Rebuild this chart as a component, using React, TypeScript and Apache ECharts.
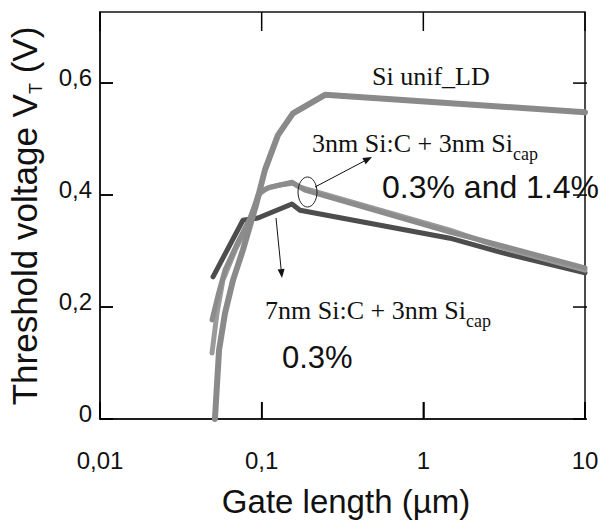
import React, { useEffect, useRef } from 'react';
import * as echarts from 'echarts';

// ---- data (gate length in µm, threshold voltage in V) ----
const unifX = [0.0514, 0.0545, 0.0593, 0.0665, 0.0766, 0.0922, 0.1048, 0.1261, 0.1561, 0.2463, 10];
const unifY = [0, 0.123, 0.189, 0.248, 0.302, 0.382, 0.445, 0.507, 0.546, 0.579, 0.548];

const sic3aX = [0.0493, 0.0529, 0.0576, 0.0694, 0.0823, 0.0949, 0.1078, 0.1298, 0.1561, 0.1725, 1.46, 2.98, 10];
const sic3aY = [0.118, 0.189, 0.248, 0.305, 0.346, 0.4, 0.4125, 0.418, 0.421, 0.414, 0.3375, 0.307, 0.266];

const sic3bX = [0.0493, 0.0537, 0.0593, 0.0713, 0.0847, 0.0976, 0.1125, 0.1539, 0.1853, 1.46, 10];
const sic3bY = [0.177, 0.221, 0.266, 0.316, 0.359, 0.405, 0.414, 0.423, 0.409, 0.334, 0.27];

const sic7X = [0.05, 0.0766, 0.0949, 0.1539, 0.1725, 1.46, 2.98, 10];
const sic7Y = [0.254, 0.355, 0.359, 0.384, 0.373, 0.323, 0.298, 0.261];

const xTicks = [0.01, 0.1, 1, 10];
const xTickLabels = ['0,01', '0,1', '1', '10'];
const yTicks = [0, 0.2, 0.4, 0.6];
const yTickLabels = ['0', '0,2', '0,4', '0,6'];

const X_MIN = 0.01;
const X_MAX = 10;
const Y_MIN = 0;
const Y_MAX = 0.727;

const SANS = "'Liberation Sans', Arial, sans-serif";
const SERIF = "'Liberation Serif', 'Times New Roman', serif";
const INK = '#111';
const TICK = '#000';

function pairs(xs: number[], ys: number[]) {
  return xs.map((x, i) => [x, ys[i]]);
}

function lookup(v: number, ticks: number[], labels: string[], log: boolean) {
  let best = -1;
  let bd = Infinity;
  ticks.forEach((t, i) => {
    const d = log ? Math.abs(Math.log10(v) - Math.log10(t)) : Math.abs(v - t);
    if (d < bd) { bd = d; best = i; }
  });
  return bd < 1e-3 ? labels[best] : '';
}

let measureCtx: CanvasRenderingContext2D | null = null;
function textWidth(text: string, size: number, family: string) {
  if (!measureCtx) measureCtx = document.createElement('canvas').getContext('2d');
  if (!measureCtx) return text.length * size * 0.5;
  measureCtx.font = `${size}px ${family}`;
  return measureCtx.measureText(text).width;
}

function arrow(x1: number, y1: number, x2: number, y2: number) {
  const dx = x2 - x1, dy = y2 - y1;
  const L = Math.hypot(dx, dy);
  const ux = dx / L, uy = dy / L;
  const hl = 9, hw = 3.5;
  const bx = x2 - ux * hl, by = y2 - uy * hl;
  return [
    { type: 'line', shape: { x1, y1, x2: bx, y2: by }, style: { stroke: INK, lineWidth: 1 }, z: 10 },
    {
      type: 'polygon',
      shape: { points: [[x2, y2], [bx - uy * hw, by + ux * hw], [bx + uy * hw, by - ux * hw]] },
      style: { fill: INK },
      z: 10,
    },
  ];
}

// serif label with subscript; yMid = vertical middle of the main text
function subLabel(x: number, yMid: number, main: string, sub: string) {
  const size = 26, subSize = 18;
  const w = textWidth(main, size, SERIF);
  const subMid = yMid + 0.3375 * size + 8 - 0.3375 * subSize;
  return [
    { type: 'text', x, y: yMid, z: 10, style: { text: main, fontSize: size, fontFamily: SERIF, fill: INK, align: 'left', verticalAlign: 'middle' } },
    { type: 'text', x: x + w, y: subMid, z: 10, style: { text: sub, fontSize: subSize, fontFamily: SERIF, fill: INK, align: 'left', verticalAlign: 'middle' } },
  ];
}

function yTitleTexts() {
  const size = 35, subSize = 18;
  const a = 'Threshold voltage V', b = 'T', c = ' (V)';
  const wa = textWidth(a, size, SANS), wb = textWidth(b, subSize, SANS), wc = textWidth(c, size, SANS);
  const W = wa + wb + wc;
  const cy = 216;
  const mainX = 37 - 0.3465 * size;
  const subX = 42 - 0.3465 * subSize;
  const st = (text: string, fs: number) => ({ text, fontSize: fs, fontFamily: SANS, fill: INK, align: 'left', verticalAlign: 'middle' });
  return [
    { type: 'text', x: mainX, y: cy + W / 2, rotation: Math.PI / 2, style: st(a, size) },
    { type: 'text', x: subX, y: cy + W / 2 - wa, rotation: Math.PI / 2, style: st(b, subSize) },
    { type: 'text', x: mainX, y: cy + W / 2 - wa - wb, rotation: Math.PI / 2, style: st(c, size) },
  ];
}

export default function App() {
  const ref = useRef<HTMLDivElement>(null);
  useEffect(() => {
    if (!ref.current) return;
    const chart = echarts.init(ref.current, undefined, { renderer: 'svg' });
    const lineSeries = (name: string, xs: number[], ys: number[], color: string, width: number) => ({
      name,
      type: 'line',
      data: pairs(xs, ys),
      showSymbol: false,
      symbol: 'none',
      lineStyle: { color, width, cap: 'round', join: 'round' },
      z: 3,
    });
    const tickStyle = { stroke: TICK, lineWidth: 1.5 };

    // tick marks on all four edges, drawn through the axes' own scales (api.coord)
    const xTickSeries = {
      name: 'x ticks',
      type: 'custom',
      silent: true,
      clip: false,
      z: 6,
      data: xTicks.map((v) => [v, Y_MIN]),
      renderItem: (_params: any, api: any) => {
        const v = api.value(0);
        const b = api.coord([v, Y_MIN]);
        const t = api.coord([v, Y_MAX]);
        return {
          type: 'group',
          children: [
            { type: 'line', shape: { x1: b[0], y1: b[1], x2: b[0], y2: b[1] - 17 }, style: tickStyle },
            { type: 'line', shape: { x1: t[0], y1: t[1], x2: t[0], y2: t[1] + 19 }, style: tickStyle },
          ],
        };
      },
    };
    const yTickSeries = {
      name: 'y ticks',
      type: 'custom',
      silent: true,
      clip: false,
      z: 6,
      data: yTicks.map((v) => [X_MIN, v]),
      renderItem: (_params: any, api: any) => {
        const v = api.value(1);
        const l = api.coord([X_MIN, v]);
        const r = api.coord([X_MAX, v]);
        return {
          type: 'group',
          children: [
            { type: 'line', shape: { x1: l[0], y1: l[1], x2: l[0] + 13, y2: l[1] }, style: tickStyle },
            { type: 'line', shape: { x1: r[0] - 12, y1: r[1], x2: r[0] + 2, y2: r[1] }, style: tickStyle },
          ],
        };
      },
    };

    chart.setOption({
      animation: false,
      grid: { left: 100, right: 19, top: 12, bottom: 107, show: true, borderColor: INK, borderWidth: 1.5, backgroundColor: 'transparent' },
      xAxis: {
        type: 'log',
        logBase: 10,
        min: X_MIN,
        max: X_MAX,
        axisLine: { show: true, onZero: false, lineStyle: { color: INK, width: 1.5 } },
        axisTick: { show: true, inside: true, length: 17, lineStyle: { color: TICK, width: 1.5 } },
        axisLabel: {
          margin: 29,
          fontSize: 24,
          fontFamily: SANS,
          color: INK,
          formatter: (v: number) => lookup(v, xTicks, xTickLabels, true),
        },
        splitLine: { show: false },
      },
      yAxis: {
        type: 'value',
        min: Y_MIN,
        max: Y_MAX,
        interval: 0.2,
        axisLine: { show: true, onZero: false, lineStyle: { color: INK, width: 1.5 } },
        axisTick: { show: true, inside: true, length: 13, lineStyle: { color: TICK, width: 1.5 } },
        axisLabel: {
          margin: 8,
          fontSize: 24,
          fontFamily: SANS,
          color: INK,
          showMaxLabel: false,
          verticalAlign: 'bottom',
          lineHeight: 12,
          formatter: (v: number) => lookup(v, yTicks, yTickLabels, false),
        },
        splitLine: { show: false },
      },
      series: [
        lineSeries('7nm Si:C + 3nm Si_cap 0.3%', sic7X, sic7Y, '#4d4d4d', 5),
        lineSeries('3nm Si:C + 3nm Si_cap 0.3%', sic3aX, sic3aY, '#9a9a9a', 5),
        lineSeries('3nm Si:C + 3nm Si_cap 1.4%', sic3bX, sic3bY, '#8c8c8c', 5),
        lineSeries('Si unif_LD', unifX, unifY, '#8a8a8a', 6),
        xTickSeries,
        yTickSeries,
      ],
      graphic: [
        ...yTitleTexts(),
        {
          type: 'text',
          x: 346,
          y: 501.6,
          style: { text: 'Gate length (µm)', fontSize: 33, fontFamily: SANS, fill: INK, align: 'center', verticalAlign: 'middle' },
        },
        {
          type: 'text',
          x: 372,
          y: 76,
          z: 10,
          style: { text: 'Si unif_LD', fontSize: 26, fontFamily: SERIF, fill: INK, align: 'left', verticalAlign: 'middle' },
        },
        ...subLabel(312, 143, '3nm Si:C + 3nm Si', 'cap'),
        {
          type: 'text',
          x: 382,
          y: 187.3,
          z: 10,
          style: { text: '0.3% and 1.4%', fontSize: 32, fontFamily: SANS, fill: INK, align: 'left', verticalAlign: 'middle' },
        },
        ...subLabel(265, 310, '7nm Si:C + 3nm Si', 'cap'),
        {
          type: 'text',
          x: 282,
          y: 357.6,
          z: 10,
          style: { text: '0.3%', fontSize: 31, fontFamily: SANS, fill: INK, align: 'left', verticalAlign: 'middle' },
        },
        {
          type: 'ellipse',
          shape: { cx: 307.5, cy: 192, rx: 9.5, ry: 15 },
          style: { fill: 'none', stroke: '#222', lineWidth: 1 },
          z: 10,
        },
        ...arrow(315, 187, 372, 157),
        ...arrow(276, 218, 282, 278),
      ],
    });

    return () => chart.dispose();
  }, []);
  return <div ref={ref} style={{ position: 'fixed', left: 0, top: 0, width: 604, height: 526, background: '#fff' }} />;
}
